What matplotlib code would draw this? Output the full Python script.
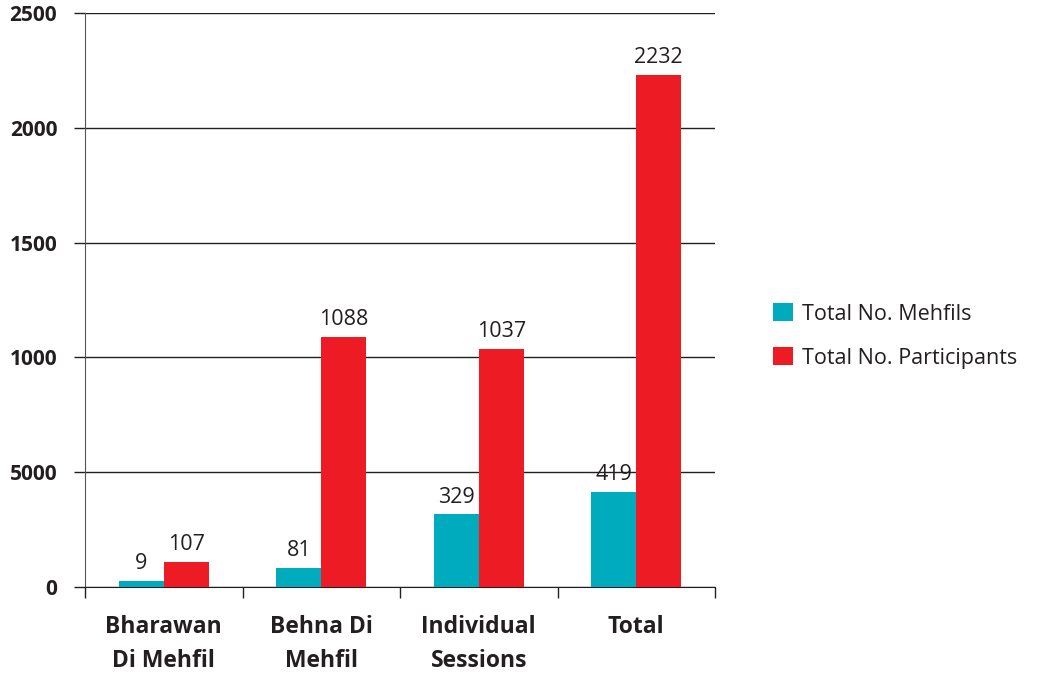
import matplotlib
matplotlib.use("Agg")
import matplotlib.pyplot as plt
import numpy as np

categories = ["Bharawan\nDi Mehfil", "Behna Di\nMehfil", "Individual\nSessions", "Total"]
mehfils = [25, 81, 316, 415]
participants = [108, 1090, 1038, 2230]
mehfils_labels = ["9", "81", "329", "419"]
participants_labels = ["107", "1088", "1037", "2232"]
y_ticks = [0, 500, 1000, 1500, 2000, 2500]
y_tick_labels = ["0", "5000", "1000", "1500", "2000", "2500"]
series_names = ["Total No. Mehfils", "Total No. Participants"]

teal = "#00ABBD"
red = "#ED1C24"
font = "Open Sans"

fig = plt.figure(figsize=(10.37, 6.73), dpi=100)
ax = fig.add_axes([85/1037, 1-587/673, (715-85)/1037, (587-13)/673])

x = np.arange(len(categories))
w = 0.285
b1 = ax.bar(x - w/2, mehfils, w, color=teal, label=series_names[0], zorder=3)
b2 = ax.bar(x + w/2, participants, w, color=red, label=series_names[1], zorder=3)

for rect, t in zip(b1, mehfils_labels):
    ax.annotate(t, (rect.get_x() + rect.get_width()/2, rect.get_height()),
                xytext=(0, 5), textcoords="offset points", ha="center", va="bottom",
                fontsize=15.5, family=font, color="#231F20", zorder=4)
for rect, t in zip(b2, participants_labels):
    ax.annotate(t, (rect.get_x() + rect.get_width()/2, rect.get_height()),
                xytext=(0, 5), textcoords="offset points", ha="center", va="bottom",
                fontsize=15.5, family=font, color="#231F20", zorder=4)

ax.set_xlim(-0.5, len(categories) - 0.5)
ax.set_ylim(0, 2500)
ax.set_yticks(y_ticks)
ax.set_yticklabels(y_tick_labels, fontsize=15, fontweight="bold", family=font, color="#231F20")
ax.yaxis.grid(True, color="#231F20", lw=1.0, zorder=1)
ax.tick_params(axis="y", length=8, width=1, color="#231F20", pad=12)

ax.set_xticks(x)
ax.set_xticklabels(categories, fontsize=16.5, fontweight="bold", family=font, color="#231F20",
                   linespacing=1.55)
ax.tick_params(axis="x", which="major", length=0, pad=20)
ax.set_xticks(np.arange(-0.5, len(categories)), minor=True)
ax.tick_params(axis="x", which="minor", length=8, width=1, color="#231F20")

for s in ["top", "right"]:
    ax.spines[s].set_visible(False)
ax.spines["left"].set_color("#555555")
ax.spines["bottom"].set_color("#231F20")

leg = fig.legend(handles=[b1, b2], labels=series_names, loc="center left",
                 bbox_to_anchor=(754/1037, 1-336/673), frameon=False,
                 prop={"family": font, "size": 15.5}, handlelength=0.9, handleheight=0.9,
                 handletextpad=0.45, labelspacing=1.05)
for t in leg.get_texts():
    t.set_color("#231F20")

fig.savefig("out.png", dpi=100)
